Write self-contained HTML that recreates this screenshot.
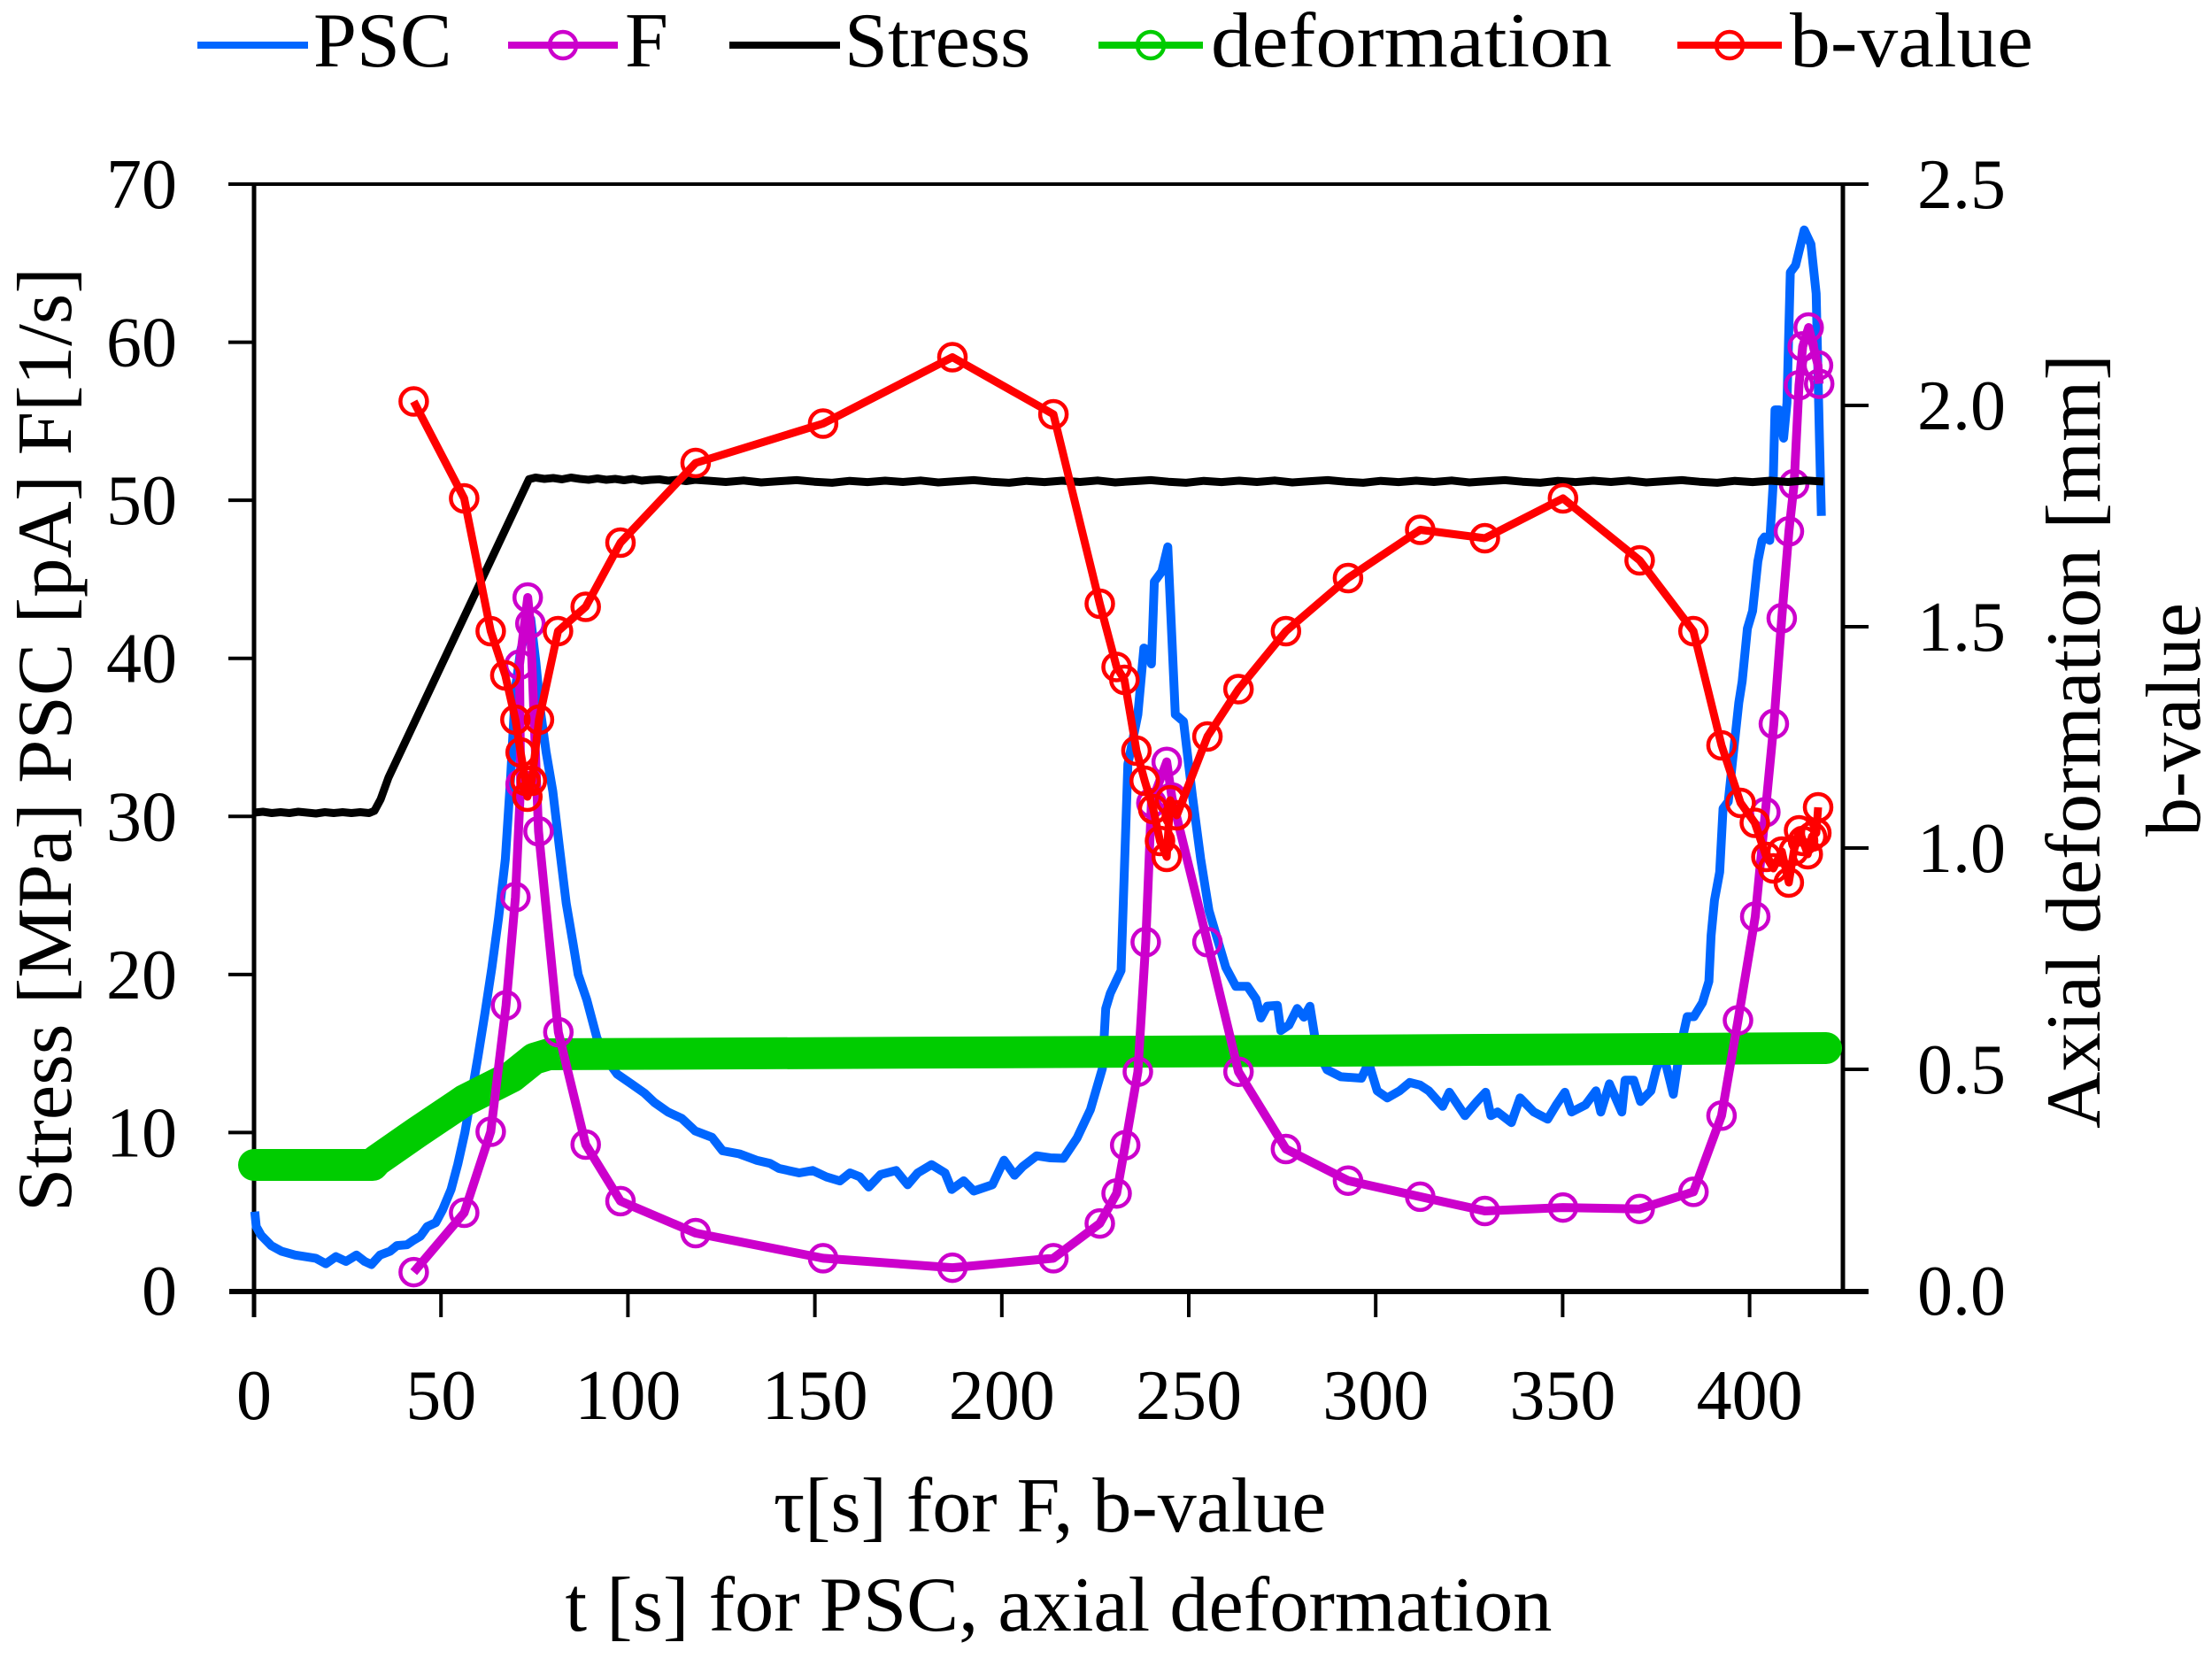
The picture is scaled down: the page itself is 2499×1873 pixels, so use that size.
<!DOCTYPE html>
<html><head><meta charset="utf-8"><style>
html,body{margin:0;padding:0;background:#fff;}
svg{display:block;}
text{font-family:"Liberation Serif",serif;fill:#000;}
.t{font-size:80px;}
.l{font-size:88px;}
</style></head><body>
<svg width="2499" height="1873" viewBox="0 0 2499 1873" xmlns="http://www.w3.org/2000/svg">
<rect width="2499" height="1873" fill="#fff"/>

<!-- Legend -->
<g>
<line x1="223" y1="51" x2="348" y2="51" stroke="#0066FF" stroke-width="8"/>
<text class="l" x="354" y="75">PSC</text>
<line x1="574" y1="51" x2="698" y2="51" stroke="#CC00CC" stroke-width="8"/>
<circle cx="636" cy="51" r="15" fill="none" stroke="#CC00CC" stroke-width="4.5"/>
<text class="l" x="706" y="75">F</text>
<line x1="824" y1="51" x2="949" y2="51" stroke="#000" stroke-width="8"/>
<text class="l" x="954" y="75">Stress</text>
<line x1="1241" y1="51" x2="1359" y2="51" stroke="#00CC00" stroke-width="8"/>
<circle cx="1300" cy="51" r="15" fill="none" stroke="#00CC00" stroke-width="4.5"/>
<text class="l" x="1368" y="75" textLength="453" lengthAdjust="spacingAndGlyphs">deformation</text>
<line x1="1895" y1="51" x2="2013" y2="51" stroke="#FF0000" stroke-width="8"/>
<circle cx="1954" cy="51" r="15" fill="none" stroke="#FF0000" stroke-width="4.5"/>
<text class="l" x="2022" y="75" textLength="275" lengthAdjust="spacingAndGlyphs">b-value</text>
</g>

<!-- Axes frame -->
<g stroke="#000" fill="none">
<line x1="258" y1="208" x2="2111" y2="208" stroke-width="4"/>
<line x1="259" y1="1459" x2="2111" y2="1459" stroke-width="6"/>
<line x1="287" y1="206" x2="287" y2="1488" stroke-width="5"/>
<line x1="2082" y1="206" x2="2082" y2="1461" stroke-width="5"/>
<g stroke-width="4">
<line x1="258" y1="1279.4" x2="287" y2="1279.4"/>
<line x1="258" y1="1100.9" x2="287" y2="1100.9"/>
<line x1="258" y1="922.3" x2="287" y2="922.3"/>
<line x1="258" y1="743.7" x2="287" y2="743.7"/>
<line x1="258" y1="565.1" x2="287" y2="565.1"/>
<line x1="258" y1="386.6" x2="287" y2="386.6"/>
<line x1="2082" y1="1208" x2="2111" y2="1208"/>
<line x1="2082" y1="958" x2="2111" y2="958"/>
<line x1="2082" y1="708" x2="2111" y2="708"/>
<line x1="2082" y1="458" x2="2111" y2="458"/>
<line x1="498.2" y1="1459" x2="498.2" y2="1488"/>
<line x1="709.4" y1="1459" x2="709.4" y2="1488"/>
<line x1="920.6" y1="1459" x2="920.6" y2="1488"/>
<line x1="1131.8" y1="1459" x2="1131.8" y2="1488"/>
<line x1="1343" y1="1459" x2="1343" y2="1488"/>
<line x1="1554.2" y1="1459" x2="1554.2" y2="1488"/>
<line x1="1765.4" y1="1459" x2="1765.4" y2="1488"/>
<line x1="1976.6" y1="1459" x2="1976.6" y2="1488"/>
</g>
</g>

<!-- Tick labels -->
<g text-anchor="end">
<text class="t" x="200" y="235">70</text>
<text class="t" x="200" y="413.6">60</text>
<text class="t" x="200" y="592.1">50</text>
<text class="t" x="200" y="770.7">40</text>
<text class="t" x="200" y="949.3">30</text>
<text class="t" x="200" y="1127.9">20</text>
<text class="t" x="200" y="1306.4">10</text>
<text class="t" x="200" y="1485">0</text>
<text class="t" x="2266" y="235">2.5</text>
<text class="t" x="2266" y="485">2.0</text>
<text class="t" x="2266" y="735">1.5</text>
<text class="t" x="2266" y="985">1.0</text>
<text class="t" x="2266" y="1235">0.5</text>
<text class="t" x="2266" y="1485">0.0</text>
</g>
<g text-anchor="middle">
<text class="t" x="287" y="1603">0</text>
<text class="t" x="498.2" y="1603">50</text>
<text class="t" x="709.4" y="1603">100</text>
<text class="t" x="920.6" y="1603">150</text>
<text class="t" x="1131.8" y="1603">200</text>
<text class="t" x="1343" y="1603">250</text>
<text class="t" x="1554.2" y="1603">300</text>
<text class="t" x="1765.4" y="1603">350</text>
<text class="t" x="1976.6" y="1603">400</text>
</g>

<!-- Axis titles -->
<text class="l" text-anchor="middle" transform="translate(80,835.5) rotate(-90)" textLength="1067" lengthAdjust="spacingAndGlyphs">Stress [MPa]  PSC [pA]  F[1/s]</text>
<text class="l" text-anchor="middle" transform="translate(2372,837.5) rotate(-90)" textLength="875" lengthAdjust="spacingAndGlyphs">Axial deformation [mm]</text>
<text class="l" text-anchor="middle" transform="translate(2485,813) rotate(-90)">b-value</text>
<text class="l" text-anchor="middle" x="1186" y="1730">τ[s] for F, b-value</text>
<text class="l" text-anchor="middle" x="1196" y="1842" textLength="1115" lengthAdjust="spacingAndGlyphs">t [s] for PSC, axial deformation</text>

<!-- PSC -->
<polyline fill="none" stroke="#0066FF" stroke-width="10" stroke-linejoin="round" points="
287.8,1368.7 289.5,1385.7 295.0,1395.5 306.4,1407.1 317.8,1413.4 333.5,1417.8 356.7,1421.4 368.1,1427.6 379.5,1419.6 390.9,1425.0 402.7,1417.8 412.0,1425.0 419.6,1428.5 429.3,1417.8 440.8,1413.4 448.4,1407.1 459.8,1406.2 467.4,1400.9 475.0,1396.4 482.6,1385.7 492.3,1381.2 499.9,1366.9 509.6,1343.7 517.2,1315.1 525.2,1279.4 532.8,1235.7 540.0,1193.7 548.0,1143.7 555.6,1093.7 563.3,1036.6 570.9,970.5 576.8,879.4 582.3,777.6 588.2,734.8 595.8,706.2 599.6,699.1 605.5,749.1 611.0,806.2 616.9,849.1 624.5,893.7 632.1,958.0 639.7,1020.5 647.3,1065.1 653.2,1100.9 662.9,1129.4 674.3,1172.3 685.7,1197.3 697.2,1213.4 712.8,1224.1 728.0,1234.8 739.4,1245.5 754.6,1256.2 770.2,1263.4 785.4,1277.6 804.4,1284.8 816.3,1300.0 835.3,1303.5 854.7,1310.7 869.9,1314.3 880.1,1320.0 902.9,1325.0 918.1,1322.3 933.3,1329.4 948.9,1334.1 960.3,1325.0 971.3,1329.4 981.4,1341.0 994.9,1326.8 1012.3,1322.3 1025.4,1338.4 1036.8,1325.0 1052.4,1315.7 1067.6,1325.0 1075.2,1343.7 1088.7,1333.9 1100.1,1345.5 1121.2,1338.4 1134.3,1310.7 1146.2,1327.6 1155.4,1317.8 1171.1,1305.7 1186.7,1308.0 1201.5,1308.5 1216.7,1285.7 1231.9,1253.5 1245.4,1207.1 1249.2,1139.3 1254.3,1122.3 1266.5,1096.4 1274.2,863.4 1285.5,807.1 1292.3,732.1 1297.4,734.8 1300.8,750.0 1304.1,657.1 1312.6,645.5 1319.3,617.8 1327.8,807.1 1337.1,815.1 1347.2,899.9 1356.5,970.5 1365.8,1028.5 1384.8,1092.8 1396.2,1114.3 1409.3,1114.3 1419.0,1128.5 1424.5,1150.0 1431.7,1136.6 1443.1,1135.7 1447.0,1164.3 1456.2,1158.0 1465.5,1139.3 1473.1,1149.1 1479.9,1136.8 1487.5,1184.4 1499.3,1208.5 1514.9,1216.4 1538.1,1218.0 1546.2,1200.5 1555.9,1232.3 1567.3,1240.3 1581.2,1232.3 1592.6,1222.8 1604.5,1225.9 1614.2,1232.3 1629.8,1249.8 1637.4,1233.9 1655.1,1260.3 1668.7,1244.3 1678.4,1233.9 1684.3,1260.3 1691.9,1256.2 1707.5,1268.2 1717.3,1240.3 1732.9,1256.2 1748.5,1264.3 1758.2,1248.2 1767.9,1233.9 1775.5,1256.2 1791.2,1248.2 1803.0,1232.3 1808.5,1256.2 1818.2,1224.4 1832.2,1256.2 1835.9,1220.3 1845.7,1220.3 1853.3,1244.3 1865.1,1232.3 1871.0,1208.5 1878.6,1188.5 1890.4,1236.2 1898.1,1184.4 1906.1,1148.5 1913.7,1148.5 1923.4,1132.6 1930.6,1108.7 1933.1,1056.9 1936.9,1017.1 1942.8,985.1 1946.6,913.4 1952.5,905.5 1958.4,849.6 1964.4,793.9 1968.2,769.9 1974.1,710.1 1980.0,690.2 1985.9,634.4 1990.6,610.5 1993.5,606.6 1999.4,610.5 2003.2,546.8 2005.3,463.0 2010.0,463.0 2015.0,495.0 2018.8,455.2 2022.6,307.7 2028.6,299.6 2038.3,259.8 2045.9,275.9 2051.8,331.6 2055.6,498.9 2057.7,582.7"/>

<!-- deformation -->
<polyline fill="none" stroke="#00CC00" stroke-width="36" stroke-linecap="round" stroke-linejoin="round" points="287,1316 421,1316 425.4,1311 471.4,1279 525,1243 578.5,1216 603.4,1196 620,1191 1300,1188 2063,1184"/>

<!-- F -->
<g fill="none" stroke="#CC00CC">
<polyline stroke-width="10" stroke-linejoin="round" points="467.4,1437.1 524.4,1370.0 554.4,1278.5 571.7,1135.7 582.3,1013.4 588.2,885.7 586.9,750.9 596.2,675.0 599.2,704.4 608.4,939.1 630.8,1166.0 661.7,1293.0 701.0,1356.9 785.9,1393.0 929.9,1421.4 1076.0,1432.1 1190.1,1421.4 1242.5,1382.1 1261.5,1348.2 1271.2,1293.7 1285.5,1210.7 1294.4,1064.3 1300.8,907.1 1318.1,860.7 1324.0,900.9 1364.1,1064.3 1399.2,1210.7 1452.8,1298.0 1522.9,1333.7 1604.5,1351.9 1677.5,1368.0 1765.8,1364.1 1852.4,1365.7 1913.2,1346.4 1944.9,1260.3 1963.5,1152.6 1983.0,1035.5 1994.4,917.5 2004.0,817.8 2012.9,698.4 2021.0,600.3 2026.9,546.9 2032.4,435.2 2036.6,391.4 2043.3,370.0 2053.9,412.8 2055.2,433.6"/>
<g stroke-width="4.5">
<circle cx="467.4" cy="1437.1" r="15"/><circle cx="524.4" cy="1370.0" r="15"/><circle cx="554.4" cy="1278.5" r="15"/><circle cx="571.7" cy="1135.7" r="15"/><circle cx="582.3" cy="1013.4" r="15"/><circle cx="588.2" cy="885.7" r="15"/><circle cx="586.9" cy="750.9" r="15"/><circle cx="596.2" cy="675.0" r="15"/><circle cx="599.2" cy="704.4" r="15"/><circle cx="608.4" cy="939.1" r="15"/><circle cx="630.8" cy="1166.0" r="15"/><circle cx="661.7" cy="1293.0" r="15"/><circle cx="701.0" cy="1356.9" r="15"/><circle cx="785.9" cy="1393.0" r="15"/><circle cx="929.9" cy="1421.4" r="15"/><circle cx="1076.0" cy="1432.1" r="15"/><circle cx="1190.1" cy="1421.4" r="15"/><circle cx="1242.5" cy="1382.1" r="15"/><circle cx="1261.5" cy="1348.2" r="15"/><circle cx="1271.2" cy="1293.7" r="15"/><circle cx="1285.5" cy="1210.7" r="15"/><circle cx="1294.4" cy="1064.3" r="15"/><circle cx="1300.8" cy="907.1" r="15"/><circle cx="1318.1" cy="860.7" r="15"/><circle cx="1324.0" cy="900.9" r="15"/><circle cx="1364.1" cy="1064.3" r="15"/><circle cx="1399.2" cy="1210.7" r="15"/><circle cx="1452.8" cy="1298.0" r="15"/><circle cx="1522.9" cy="1333.7" r="15"/><circle cx="1604.5" cy="1351.9" r="15"/><circle cx="1677.5" cy="1368.0" r="15"/><circle cx="1765.8" cy="1364.1" r="15"/><circle cx="1852.4" cy="1365.7" r="15"/><circle cx="1913.2" cy="1346.4" r="15"/><circle cx="1944.9" cy="1260.3" r="15"/><circle cx="1963.5" cy="1152.6" r="15"/><circle cx="1983.0" cy="1035.5" r="15"/><circle cx="1994.4" cy="917.5" r="15"/><circle cx="2004.0" cy="817.8" r="15"/><circle cx="2012.9" cy="698.4" r="15"/><circle cx="2021.0" cy="600.3" r="15"/><circle cx="2026.9" cy="546.9" r="15"/><circle cx="2032.4" cy="435.2" r="15"/><circle cx="2036.6" cy="391.4" r="15"/><circle cx="2043.3" cy="370.0" r="15"/><circle cx="2053.9" cy="412.8" r="15"/><circle cx="2055.2" cy="433.6" r="15"/>
</g>
</g>

<!-- Stress -->
<polyline fill="none" stroke="#000" stroke-width="9" stroke-linejoin="round" points="287,918 297,917 307,918.5 317,917.5 327,918.5 337,917 347,918 357,919 367,917.5 377,918.5 387,917.5 397,918.5 407,917.5 417,918.5 423,916 430,903 438.8,878.6 597.6,541.4 605,539.5 615,541 625,540 635,541.5 645,539.5 655,541 665,542 675,540.5 685,542 695,541 705,542.5 715,541 725,543 735,542 745,541.5 755,543 765,542 775,543.5 785,542 800,543 820,544.5 840,542.8 860,545 880,543.6 900,542.4 920,544.2 940,545.4 960,543.2 980,544.6 1000,543 1020,544.5 1040,542.8 1060,545 1080,543.6 1100,542.4 1120,544.2 1140,545.4 1160,543.2 1180,544.6 1200,543 1220,544.5 1240,542.8 1260,545 1280,543.6 1300,542.4 1320,544.2 1340,545.4 1360,543.2 1380,544.6 1400,543 1420,544.5 1440,542.8 1460,545 1480,543.6 1500,542.4 1520,544.2 1540,545.4 1560,543.2 1580,544.6 1600,543 1620,544.5 1640,542.8 1660,545 1680,543.6 1700,542.4 1720,544.2 1740,545.4 1760,543.2 1780,544.6 1800,543 1820,544.5 1840,542.8 1860,545 1880,543.6 1900,542.4 1920,544.2 1940,545.4 1960,543.2 1980,544.6 2000,543 2020,544.5 2040,542.8 2060,544"/>

<!-- b-value -->
<g fill="none" stroke="#FF0000">
<polyline stroke-width="9" stroke-linejoin="round" points="467.4,453.5 524.4,563.0 554.4,713.0 570.9,763.0 582.3,813.0 588.2,850.0 593.7,882.0 595.8,900.0 600.8,882.0 608.9,813.0 630.4,713.0 661.7,685.5 701.0,613.0 785.9,523.0 929.9,478.5 1076.0,403.5 1190.1,468.0 1242.5,682.0 1261.5,753.5 1270.3,768.0 1283.9,848.0 1293.2,882.0 1302.9,914.0 1310.5,950.0 1318.1,968.0 1322,904 1329.5,921.0 1364.1,832.0 1399.2,778.5 1452.8,713.0 1522.9,653.0 1604.5,598.5 1677.5,608.0 1765.8,563.0 1852.4,633.0 1913.2,713.0 1944.9,842.0 1966.4,907.0 1982.5,929.5 1995.6,968.0 2003.4,981.0 2013,962 2020.9,997 2026.7,961 2032.5,938 2037,950 2042.3,965 2047,945 2052,941 2054,912"/>
<g stroke-width="4.5">
<circle cx="467.4" cy="453.5" r="15"/><circle cx="524.4" cy="563.0" r="15"/><circle cx="554.4" cy="713.0" r="15"/><circle cx="570.9" cy="763.0" r="15"/><circle cx="582.3" cy="813.0" r="15"/><circle cx="588.2" cy="850.0" r="15"/><circle cx="593.7" cy="882.0" r="15"/><circle cx="595.8" cy="900.0" r="15"/><circle cx="600.8" cy="882.0" r="15"/><circle cx="608.9" cy="813.0" r="15"/><circle cx="630.4" cy="713.0" r="15"/><circle cx="661.7" cy="685.5" r="15"/><circle cx="701.0" cy="613.0" r="15"/><circle cx="785.9" cy="523.0" r="15"/><circle cx="929.9" cy="478.5" r="15"/><circle cx="1076.0" cy="403.5" r="15"/><circle cx="1190.1" cy="468.0" r="15"/><circle cx="1242.5" cy="682.0" r="15"/><circle cx="1261.5" cy="753.5" r="15"/><circle cx="1270.3" cy="768.0" r="15"/><circle cx="1283.9" cy="848.0" r="15"/><circle cx="1293.2" cy="882.0" r="15"/><circle cx="1302.9" cy="914.0" r="15"/><circle cx="1310.5" cy="950.0" r="15"/><circle cx="1318.1" cy="968.0" r="15"/><circle cx="1322" cy="904" r="15"/><circle cx="1329.5" cy="921.0" r="15"/><circle cx="1364.1" cy="832.0" r="15"/><circle cx="1399.2" cy="778.5" r="15"/><circle cx="1452.8" cy="713.0" r="15"/><circle cx="1522.9" cy="653.0" r="15"/><circle cx="1604.5" cy="598.5" r="15"/><circle cx="1677.5" cy="608.0" r="15"/><circle cx="1765.8" cy="563.0" r="15"/><circle cx="1852.4" cy="633.0" r="15"/><circle cx="1913.2" cy="713.0" r="15"/><circle cx="1944.9" cy="842.0" r="15"/><circle cx="1966.4" cy="907.0" r="15"/><circle cx="1982.5" cy="929.5" r="15"/><circle cx="1995.6" cy="968.0" r="15"/><circle cx="2003.4" cy="981.0" r="15"/><circle cx="2013" cy="962" r="15"/><circle cx="2020.9" cy="997" r="15"/><circle cx="2026.7" cy="961" r="15"/><circle cx="2032.5" cy="938" r="15"/><circle cx="2037" cy="950" r="15"/><circle cx="2042.3" cy="965" r="15"/><circle cx="2047" cy="945" r="15"/><circle cx="2052" cy="941" r="15"/><circle cx="2054" cy="912" r="15"/>
</g>
</g>
</svg>
</body></html>
